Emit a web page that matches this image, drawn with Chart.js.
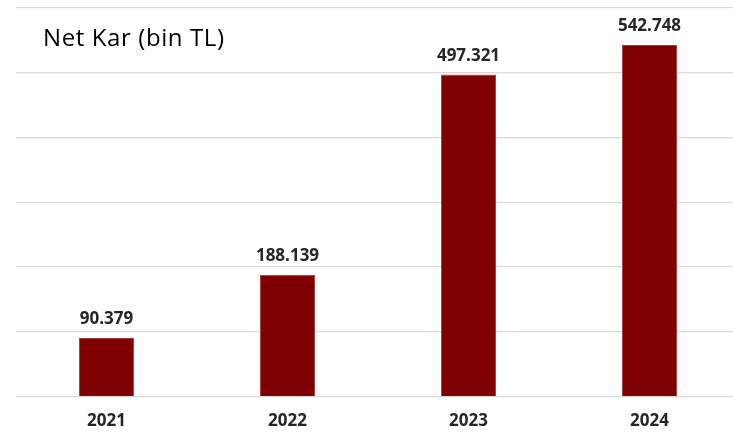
<!DOCTYPE html>
<html>
<head>
<meta charset="utf-8">
<script src="https://cdn.jsdelivr.net/npm/chart.js@4.4.1/dist/chart.umd.min.js"></script>
<style>
  html, body { margin: 0; padding: 0; background: #fff; overflow: hidden; }
  #wrap { position: relative; width: 740px; height: 436px; }
  #title { position: absolute; left: 43px; top: 25px; font-family: 'Open Sans', sans-serif; font-size: 24px; letter-spacing: 0.6px; color: #000; white-space: nowrap; line-height: 1; }
</style>
</head>
<body>
<div id="wrap">
  <canvas id="c" width="740" height="436"></canvas>
  <div id="title">Net Kar (bin TL)</div>
</div>
<script>
const categories = ['2021', '2022', '2023', '2024'];
const netKar = [90379, 188139, 497321, 542748];
const yTicks = [0, 100000, 200000, 300000, 400000, 500000, 600000];

const fmt = v => v.toLocaleString('tr-TR');

const valueLabels = {
  id: 'valueLabels',
  afterDatasetsDraw(chart) {
    const ctx = chart.ctx;
    const meta = chart.getDatasetMeta(0);
    ctx.save();
    ctx.font = '700 17px "Open Sans", sans-serif';
    ctx.fillStyle = '#262626';
    ctx.textAlign = 'center';
    ctx.textBaseline = 'bottom';
    meta.data.forEach((bar, i) => {
      ctx.fillText(fmt(chart.data.datasets[0].data[i]), bar.x, bar.y - 10);
    });
    ctx.restore();
  }
};

new Chart(document.getElementById('c'), {
  type: 'bar',
  data: {
    labels: categories,
    datasets: [{
      data: netKar,
      backgroundColor: '#7f0000',
      borderColor: '#a33a3a',
      borderWidth: 1,
      categoryPercentage: 1,
      barPercentage: 0.305
    }]
  },
  options: {
    responsive: false,
    animation: false,
    layout: { padding: { left: 16, top: 8, right: 0, bottom: -9 } },
    plugins: { legend: { display: false }, tooltip: { enabled: false }, title: { display: false } },
    scales: {
      x: {
        grid: { display: false, drawTicks: false },
        border: { display: false },
        ticks: { color: '#262626', font: { family: 'Open Sans', size: 17, weight: '700' }, padding: 14 }
      },
      y: {
        min: 0, max: 600000,
        afterBuildTicks(axis) { axis.ticks = yTicks.map(v => ({ value: v })); },
        grid: { color: '#d9d9d9', lineWidth: 1.3, drawTicks: false },
        border: { display: false },
        ticks: { display: false }
      }
    }
  },
  plugins: [valueLabels]
});
</script>
</body>
</html>
